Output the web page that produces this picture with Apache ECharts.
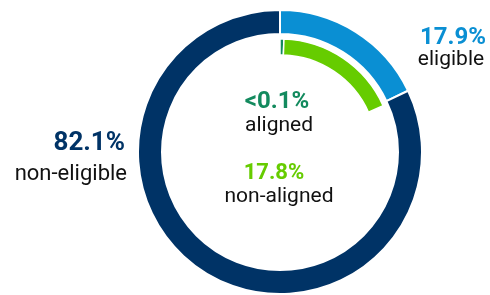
<!DOCTYPE html>
<html>
<head>
<meta charset="utf-8">
<script src="https://cdn.jsdelivr.net/npm/echarts@6/dist/echarts.min.js"></script>
<style>
  html, body { margin: 0; padding: 0; background: #fff; }
  #chart { width: 490px; height: 295px; }
</style>
</head>
<body>
<div id="chart"></div>
<script>
// outer ring: eligible vs non-eligible
const outerNames = ['eligible', 'non-eligible']
const outerValues = [17.9, 82.1]
const outerColors = ['#0a8fd3', '#003366']

// inner ring: split of the eligible part
const innerNames = ['aligned', 'non-aligned', 'rest']
const innerValues = [0.1, 17.8, 82.1]
const innerColors = ['#138a5e', '#66cc00', 'transparent']

const labelTexts = ['17.9%', '82.1%', '<0.1%', '17.8%']

const chart = echarts.init(document.getElementById('chart'))

const pct = (text, x, y, color, align, size) => ({
  type: 'text',
  x: x,
  y: y,
  style: {
    text: text,
    fill: color,
    font: 'bold ' + size + 'px Roboto',
    align: align,
    verticalAlign: 'middle'
  }
})
const name = (text, x, y, align, size) => ({
  type: 'text',
  x: x,
  y: y,
  style: {
    text: text,
    fill: '#111',
    font: size + 'px Roboto',
    align: align,
    verticalAlign: 'middle'
  }
})

chart.setOption({
  animation: false,
  series: [
    {
      type: 'pie',
      center: [280, 152],
      radius: [118, 142],
      startAngle: 90,
      label: { show: false },
      labelLine: { show: false },
      emphasis: { disabled: true },
      itemStyle: { borderColor: '#fff', borderWidth: 2 },
      data: outerNames.map((n, i) => ({
        name: n,
        value: outerValues[i],
        itemStyle: { color: outerColors[i] }
      }))
    },
    {
      type: 'pie',
      center: [280, 152],
      radius: [97, 113],
      startAngle: 90,
      minAngle: 2,
      label: { show: false },
      labelLine: { show: false },
      emphasis: { disabled: true },
      data: innerNames.map((n, i) => ({
        name: n,
        value: innerValues[i],
        itemStyle: {
          color: innerColors[i],
          borderColor: '#fff',
          borderWidth: innerColors[i] === 'transparent' ? 0 : 1.5
        }
      }))
    }
  ],
  graphic: [
    pct(labelTexts[0], 453, 38, outerColors[0], 'center', 24),
    name(outerNames[0], 451, 60, 'center', 21),
    pct(labelTexts[1], 125, 143, outerColors[1], 'right', 26),
    name(outerNames[1], 127, 174, 'right', 22),
    pct(labelTexts[2], 277, 102, innerColors[0], 'center', 24),
    name(innerNames[0], 279, 126, 'center', 21),
    pct(labelTexts[3], 274, 173, innerColors[1], 'center', 22),
    name(innerNames[1], 279, 197, 'center', 21)
  ]
})
</script>
</body>
</html>
